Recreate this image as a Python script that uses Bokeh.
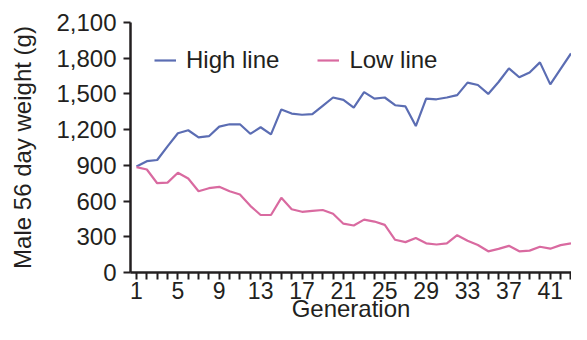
from bokeh.plotting import figure
from bokeh.models import FixedTicker, NumeralTickFormatter, Range1d, Legend, LegendItem
from bokeh.embed import file_html
from bokeh.resources import INLINE

generation = list(range(1, 44))
high_line = [890, 935, 945, 1060, 1170, 1195, 1135, 1145, 1225, 1245, 1245, 1165, 1220, 1160,
             1370, 1335, 1325, 1330, 1400, 1470, 1450, 1385, 1515, 1460, 1470, 1405, 1395, 1230,
             1460, 1455, 1470, 1490, 1595, 1575, 1500, 1600, 1715, 1640, 1680, 1765, 1580, 1710, 1840]
low_line = [885, 865, 750, 755, 838, 790, 683, 708, 720, 682, 655, 560, 483, 483,
            627, 531, 510, 518, 525, 493, 410, 395, 444, 428, 400, 275, 255, 290,
            245, 235, 245, 313, 267, 231, 178, 198, 224, 178, 184, 216, 200, 230, 245]
x_labels = [1, 5, 9, 13, 17, 21, 25, 29, 33, 37, 41]
y_ticks = [0, 300, 600, 900, 1200, 1500, 1800, 2100]

FONT = "Liberation Sans"
FS = "24px"
DARK = "#231f20"
BLUE = "#5b6db3"
PINK = "#d96aa0"

p = figure(width=571, height=324, output_backend="svg", toolbar_location=None,
           x_range=Range1d(0.42, 43.05), y_range=Range1d(0, 2100),
           min_border_left=130, min_border_top=22, min_border_bottom=45, min_border_right=0)
p.outline_line_color = None
p.xgrid.visible = False
p.ygrid.visible = False
p.background_fill_color = "white"
p.border_fill_color = "white"

r_high = p.line(generation, high_line, line_color=BLUE, line_width=2.2)
r_low = p.line(generation, low_line, line_color=PINK, line_width=2.2)

for ax in (p.xaxis[0], p.yaxis[0]):
    ax.axis_line_color = DARK
    ax.axis_line_width = 2.5
    ax.major_tick_line_color = DARK
    ax.major_tick_line_width = 2
    ax.major_tick_out = 7
    ax.major_tick_in = 0
    ax.minor_tick_line_color = None
    ax.major_label_text_font = FONT
    ax.major_label_text_font_size = FS
    ax.major_label_text_color = DARK
    ax.axis_label_text_font = FONT
    ax.axis_label_text_font_size = FS
    ax.axis_label_text_font_style = "normal"
    ax.axis_label_text_color = DARK

xa = p.xaxis[0]
xa.ticker = FixedTicker(ticks=generation)
xa.major_label_overrides = {g: (str(g) if g in x_labels else "") for g in generation}
xa.major_label_text_font_size = "23px"
xa.major_label_standoff = 2
xa.axis_label = "Generation"
xa.axis_label_standoff = -7

ya = p.yaxis[0]
ya.ticker = FixedTicker(ticks=y_ticks)
ya.formatter = NumeralTickFormatter(format="0,0")
ya.major_label_standoff = 7
ya.axis_label = "Male 56 day weight (g)"
ya.axis_label_standoff = 17

legend = Legend(items=[LegendItem(label="High line", renderers=[r_high]),
                       LegendItem(label="Low line", renderers=[r_low])],
                location=(24, 198), orientation="horizontal",
                glyph_width=22, glyph_height=20, label_standoff=10, spacing=38,
                padding=0, margin=0, border_line_color=None, background_fill_alpha=0,
                label_text_font=FONT, label_text_font_size=FS, label_text_color=DARK)
p.add_layout(legend)

open("out.html", "w").write(file_html(p, INLINE))
